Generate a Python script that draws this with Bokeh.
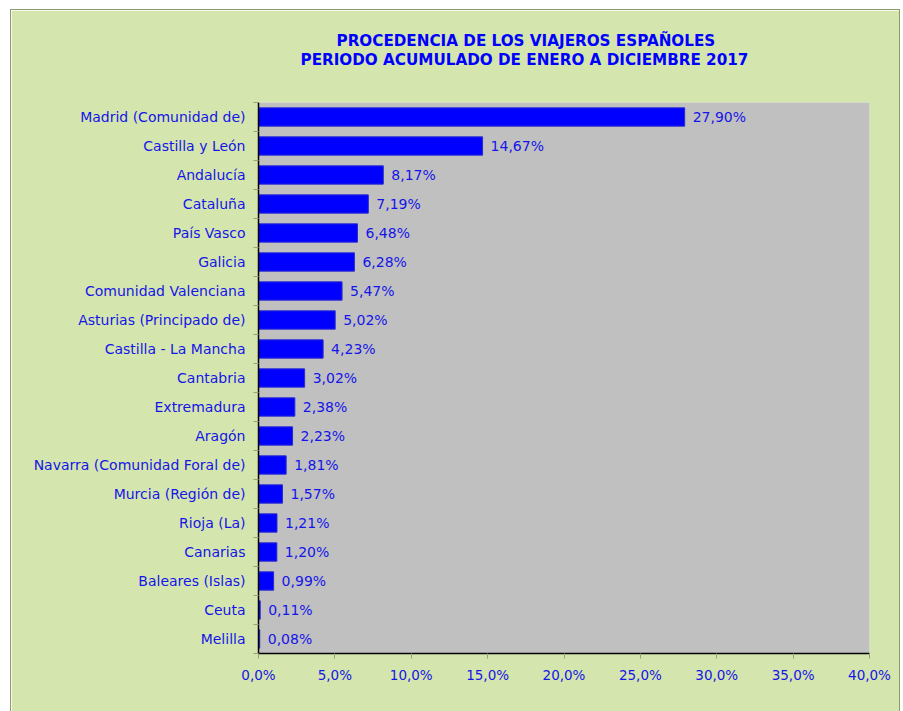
from bokeh.plotting import figure
from bokeh.models import ColumnDataSource, FixedTicker, Title, Range1d
from bokeh.core.properties import value
from bokeh.embed import file_html
from bokeh.resources import INLINE

regions = ["Madrid (Comunidad de)", "Castilla y León", "Andalucía", "Cataluña",
           "País Vasco", "Galicia", "Comunidad Valenciana", "Asturias (Principado de)",
           "Castilla - La Mancha", "Cantabria", "Extremadura", "Aragón",
           "Navarra (Comunidad Foral de)", "Murcia (Región de)", "Rioja (La)",
           "Canarias", "Baleares (Islas)", "Ceuta", "Melilla"]
shares = [27.90, 14.67, 8.17, 7.19, 6.48, 6.28, 5.47, 5.02, 4.23, 3.02, 2.38, 2.23,
          1.81, 1.57, 1.21, 1.20, 0.99, 0.11, 0.08]
x_ticks = [0, 5, 10, 15, 20, 25, 30, 35, 40]
x_tick_labels = ["0,0%", "5,0%", "10,0%", "15,0%", "20,0%", "25,0%", "30,0%", "35,0%", "40,0%"]
title_lines = ["PROCEDENCIA DE LOS VIAJEROS ESPAÑOLES",
               "PERIODO ACUMULADO DE ENERO A DICIEMBRE 2017"]

FONT = "DejaVu Sans"
BLUE_TXT = "#1515e8"
GREEN = "#d4e5ad"

pos = list(range(len(regions)))
src = ColumnDataSource(dict(
    y=pos, v=shares,
    lbl=[f"{s:.2f}".replace(".", ",") + "%" for s in shares],
))

p = figure(width=890, height=702, output_backend="svg", toolbar_location=None,
           x_range=Range1d(0, 40), y_range=Range1d(len(regions) - 0.5, -0.5),
           min_border_left=247, min_border_right=32, min_border_top=92, min_border_bottom=59)
p.margin = (9, 0, 0, 10)
p.styles = {"border-top": "1px solid #8d9b6b", "border-left": "1px solid #8d9b6b",
            "border-right": "1px solid #8d9b6b"}
p.background_fill_color = "#c0c0c0"
p.border_fill_color = GREEN
p.outline_line_color = None
p.grid.visible = False

p.hbar(y="y", right="v", left=0, height=0.63, source=src,
       fill_color="#0000ff", line_color="#2a2ad0", line_width=1)
p.text(x="v", y="y", text="lbl", source=src, x_offset=8, text_baseline="middle",
       text_align="left", text_font=value(FONT), text_font_size="14px", text_color=BLUE_TXT)

xa = p.xaxis[0]
xa.ticker = FixedTicker(ticks=x_ticks)
xa.major_label_overrides = {t: l for t, l in zip(x_ticks, x_tick_labels)}
xa.axis_line_color = "black"
xa.axis_line_width = 1.5
xa.major_tick_line_color = "#9aa07a"
xa.major_tick_out = 5
xa.major_tick_in = 0
xa.minor_tick_line_color = None
xa.major_label_standoff = 8
xa.major_label_text_font = FONT
xa.major_label_text_font_size = "13.5px"
xa.major_label_text_color = BLUE_TXT

ya = p.yaxis[0]
ya.ticker = FixedTicker(ticks=pos, minor_ticks=[i - 0.5 for i in range(len(regions) + 1)])
ya.major_label_overrides = {i: r for i, r in zip(pos, regions)}
ya.axis_line_color = "black"
ya.axis_line_width = 1.5
ya.major_tick_line_color = None
ya.major_tick_out = 0
ya.major_tick_in = 0
ya.minor_tick_line_color = "#9aa07a"
ya.minor_tick_out = 5
ya.minor_tick_in = 0
ya.major_label_standoff = 8
ya.major_label_text_font = FONT
ya.major_label_text_font_size = "14px"
ya.major_label_text_color = BLUE_TXT

# blank spacer title right above the frame, to lift the two title lines
p.add_layout(Title(text=" ", standoff=17, text_font=FONT, text_font_size="13px",
                   text_color=GREEN), "above")

# titles: first added sits closest to the frame
for line, off, so in [(title_lines[1], 42, 0), (title_lines[0], 78, -3)]:
    p.add_layout(Title(text=line, align="left", offset=off, standoff=so,
                       text_font=FONT, text_font_size="15.2px", text_font_style="bold",
                       text_color="#0000ff"), "above")

open("out.html", "w").write(file_html(p, INLINE))
